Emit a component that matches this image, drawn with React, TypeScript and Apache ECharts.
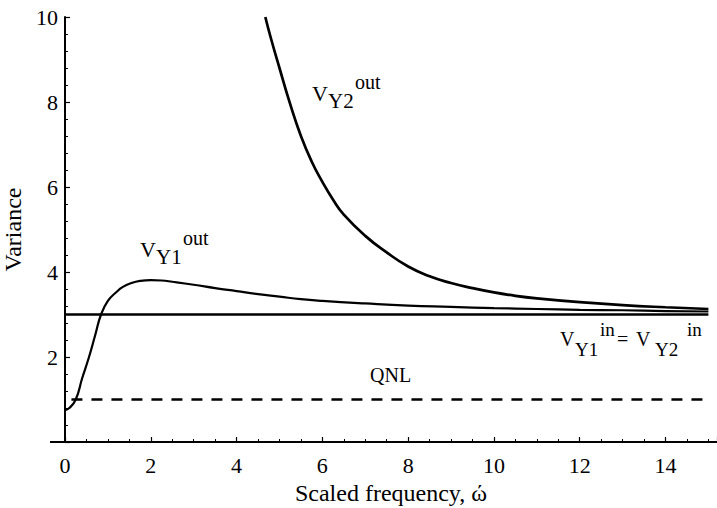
import React, { useEffect, useRef } from "react";
import * as echarts from "echarts";

const FONT = "Liberation Serif, Times New Roman, DejaVu Serif, serif";

const xTickLabels = ["0", "2", "4", "6", "8", "10", "12", "14"];
const yTickLabels = ["2", "4", "6", "8", "10"];

const y1OutFreq = [0, 0.1, 0.25, 0.4, 0.56, 0.7, 0.84, 1.0, 1.2, 1.35, 1.55, 1.75, 2.0, 2.25, 2.5, 3.0, 3.5, 4.0, 4.5, 5.0, 5.5, 6, 7, 8, 9, 10, 11, 12, 13, 14, 15];
const y1OutVar = [0.75, 0.8, 1.0, 1.5, 2.0, 2.5, 3.0, 3.32, 3.53, 3.65, 3.74, 3.79, 3.81, 3.8, 3.77, 3.7, 3.62, 3.55, 3.48, 3.42, 3.36, 3.32, 3.26, 3.21, 3.18, 3.15, 3.13, 3.11, 3.1, 3.08, 3.07];

const y2OutFreq = [4.67, 4.8, 5.0, 5.25, 5.5, 5.75, 6.0, 6.25, 6.5, 7.0, 7.5, 8.0, 8.5, 9.0, 9.5, 10, 10.5, 11, 12, 13, 14, 15];
const y2OutVar = [10, 9.5, 8.8, 7.95, 7.2, 6.6, 6.12, 5.7, 5.35, 4.85, 4.46, 4.13, 3.9, 3.74, 3.62, 3.52, 3.44, 3.38, 3.29, 3.22, 3.17, 3.13];

const inFreq = [0, 15];
const inVar = [3, 3];

const qnlFreq = [0.15, 15];
const qnlVar = [1, 1];

export default function App() {
  const ref = useRef<HTMLDivElement>(null);
  useEffect(() => {
    const chart = echarts.init(ref.current!, undefined, { renderer: "svg" });
    const pair = (xs: number[], ys: number[]) => xs.map((x, i) => [x, ys[i]]);
    const txt = (text: string, x: number, baseline: number, size: number) => ({
      type: "text",
      x,
      y: baseline - 0.305 * size,
      silent: true,
      style: { text, fontFamily: FONT, fontSize: size, fill: "#000", verticalAlign: "middle", align: "left" },
    });
    const axisCommon = {
      type: "value",
      splitLine: { show: false },
      axisLine: { show: true, lineStyle: { color: "#000", width: 2 } },
      axisTick: { show: true, inside: true, length: 5, lineStyle: { color: "#000", width: 1.2 } },
    };
    chart.setOption({
      animation: false,
      backgroundColor: "#fff",
      textStyle: { fontFamily: FONT },
      grid: { left: 65, right: 0, top: 17, bottom: 66, containLabel: false, outerBoundsMode: "none" },
      xAxis: {
        ...axisCommon,
        min: 0,
        max: 15.2,
        interval: 2,
        minorTick: { show: true, splitNumber: 4, length: 3, lineStyle: { color: "#000", width: 1 } },
        axisLabel: {
          margin: 12,
          fontFamily: FONT,
          fontSize: 22,
          color: "#000",
          formatter: (v: number) => (xTickLabels.includes(String(v)) ? String(v) : ""),
        },
        name: "Scaled frequency, ώ",
        nameLocation: "middle",
        nameGap: 38,
        nameTextStyle: { fontFamily: FONT, fontSize: 24, color: "#000" },
      },
      yAxis: {
        ...axisCommon,
        min: 0,
        max: 10,
        interval: 2,
        minorTick: { show: true, splitNumber: 5, length: 3, lineStyle: { color: "#000", width: 1 } },
        axisLabel: {
          margin: 7,
          fontFamily: FONT,
          fontSize: 22,
          color: "#000",
          formatter: (v: number) => (yTickLabels.includes(String(v)) ? String(v) : ""),
        },
        name: "Variance",
        nameLocation: "middle",
        nameGap: 38,
        nameTextStyle: { fontFamily: FONT, fontSize: 24, color: "#000" },
      },
      series: [
        {
          type: "line",
          data: pair(inFreq, inVar),
          showSymbol: false,
          lineStyle: { color: "#000", width: 2.5 },
        },
        {
          type: "line",
          data: pair(qnlFreq, qnlVar),
          showSymbol: false,
          lineStyle: { color: "#000", width: 2.6, type: [11, 9] },
        },
        {
          type: "line",
          data: pair(y1OutFreq, y1OutVar),
          showSymbol: false,
          smooth: 0.5,
          lineStyle: { color: "#000", width: 2.2 },
        },
        {
          type: "line",
          data: pair(y2OutFreq, y2OutVar),
          showSymbol: false,
          smooth: 0.5,
          clip: true,
          lineStyle: { color: "#000", width: 2.7 },
        },
      ],
      graphic: [
        { type: "line", silent: true, shape: { x1: 50, y1: 442, x2: 65, y2: 442 }, style: { stroke: "#000", lineWidth: 2 } },
        txt("V", 312, 100, 22),
        txt("Y2", 328, 107, 21),
        txt("out", 355, 88, 20),
        txt("V", 140, 256, 22),
        txt("Y1", 156, 263, 21),
        txt("out", 183, 244, 20),
        txt("V", 560, 345, 20),
        txt("Y1", 575, 355, 19),
        txt("in", 600, 335, 19),
        txt("=", 617, 345, 20),
        txt("V", 636, 345, 20),
        txt("Y2", 655, 355, 19),
        txt("in", 687, 335, 19),
        txt("QNL", 370, 381, 20),
      ],
    });
    return () => chart.dispose();
  }, []);
  return <div ref={ref} style={{ position: "fixed", left: 0, top: 0, width: 717, height: 508 }} />;
}
